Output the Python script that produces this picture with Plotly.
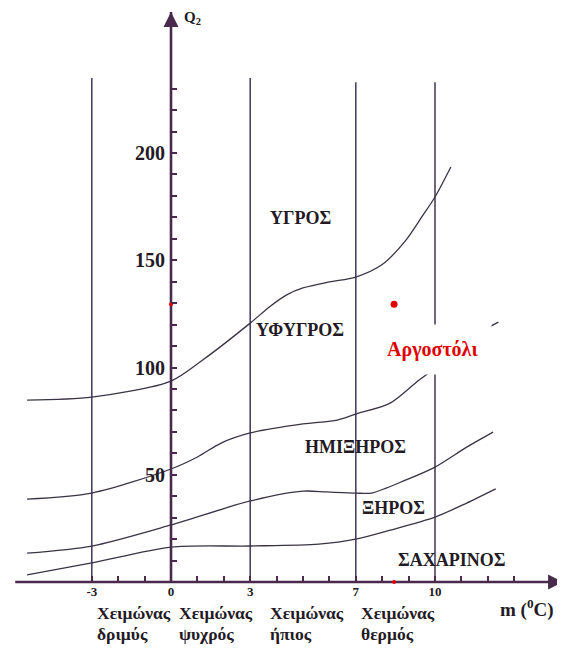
import plotly.graph_objects as go

# ---------------- data ----------------
# winter-type boundaries on the m axis (deg C)
m_bounds = [-3, 0, 3, 7, 10]
m_tick_text = ["-3", "0", "3", "7", "10"]
m_minor = [-2, -1, 1, 2, 4, 5, 6, 8, 9, 11, 12, 13]

# vertical boundary lines (x = 0 is the Q2 axis itself)
vline_m = [-3, 3, 7, 10]
vline_top = [235, 235, 233, 233]

# Q2 axis
q2_ticks = [50, 100, 150, 200]
q2_minor = [10, 20, 30, 40, 60, 70, 80, 90, 110, 120, 130, 140, 160, 170, 180, 190, 210, 220, 230]

# axis extents
m_axis_start = -5.9
m_axis_end = 14.85
q2_axis_end = 265.7

# bioclimatic boundary curves
humid_m = [-5.45, -3, 0, 1.2, 3, 3.75, 4.4, 5.0, 6.0, 7, 8.0, 8.9, 9.5, 10, 10.6]
humid_q = [84.8, 86.2, 93.7, 103.5, 120.7, 128.5, 134.0, 137.1, 139.9, 142.2, 148.0, 159.4, 170.2, 179.5, 193.5]

subhumid_m = [-5.45, -3, 0, 1.0, 1.9, 3, 5.0, 6.3, 7, 8.3, 9.4, 10.7, 12.0, 12.4]
subhumid_q = [38.7, 41.5, 52.7, 58.3, 64.8, 69.5, 73.7, 75.5, 78.3, 83.4, 94.2, 106.0, 118.4, 121.2]

semiarid_m = [-5.45, -3, 0, 3, 5.0, 5.9, 7, 7.6, 8.9, 10, 11.2, 12.2]
semiarid_q = [13.5, 16.8, 26.6, 37.8, 42.4, 42.0, 41.5, 41.5, 47.6, 53.6, 62.9, 69.9]

arid_m = [-5.45, -3, 0, 3, 5.6, 7, 8.3, 10, 11.2, 12.3]
arid_q = [3.3, 8.9, 16.3, 16.8, 17.7, 20.0, 24.2, 30.3, 36.8, 43.4]

# zone names
zone_names = ["ΥΓΡΟΣ", "ΥΦΥΓΡΟΣ", "ΗΜΙΞΗΡΟΣ", "ΞΗΡΟΣ", "ΣΑΧΑΡΙΝΟΣ"]
zone_m = [4.89, 4.89, 6.97, 8.41, 10.64]
zone_q = [169.7, 117.5, 62.9, 34.5, 10.3]

# winter types
winter_word = "Χειμώνας"
winter_types = ["δριμύς", "ψυχρός", "ήπιος", "θερμός"]
winter_m = [-2.88, 0.23, 3.67, 7.12]
winter_q_line1 = -14.2
winter_q_line2 = -24.0

# station
station_name = "Αργοστόλι"
station_m = 8.45
station_q2 = 129.5
station_label_m = 9.92
station_label_q = 108.2

# ---------------- style ----------------
# page body has an 8px margin, ranges chosen so the drawing sits like the original
X_RANGE = [-6.174, 15.227]
Y_RANGE = [-36.8, 267.6]
AXIS_C = "#4a2a4c"
VLINE_C = "#4f4060"
CURVE_C = "#3a3344"
TEXT_C = "#231a25"
RED = "#e00000"
SERIF = "Liberation Serif"

fig = go.Figure()

for v, top in zip(vline_m, vline_top):
    fig.add_trace(go.Scatter(x=[v, v], y=[0, top], mode="lines",
                             line=dict(color=VLINE_C, width=1.6), hoverinfo="skip"))

for xs, ys in [(humid_m, humid_q), (subhumid_m, subhumid_q),
               (semiarid_m, semiarid_q), (arid_m, arid_q)]:
    fig.add_trace(go.Scatter(x=xs, y=ys, mode="lines",
                             line=dict(color=CURVE_C, width=1.3, shape="spline", smoothing=0.8),
                             hoverinfo="skip"))

# axes lines with arrow heads
fig.add_trace(go.Scatter(x=[m_axis_start, m_axis_end], y=[0, 0], mode="lines",
                         line=dict(color=AXIS_C, width=2.6), hoverinfo="skip"))
fig.add_trace(go.Scatter(x=[0, 0], y=[0, q2_axis_end], mode="lines",
                         line=dict(color=AXIS_C, width=2.6), hoverinfo="skip"))
fig.add_trace(go.Scatter(x=[m_axis_end], y=[0], mode="markers",
                         marker=dict(symbol="arrow-right", size=15, color=AXIS_C), hoverinfo="skip"))
fig.add_trace(go.Scatter(x=[0], y=[q2_axis_end], mode="markers",
                         marker=dict(symbol="arrow-up", size=15, color=AXIS_C), hoverinfo="skip"))

# station point and its marks on the axes
fig.add_trace(go.Scatter(x=[station_m], y=[station_q2], mode="markers",
                         marker=dict(color=RED, size=7), hoverinfo="skip"))
fig.add_trace(go.Scatter(x=[station_m, 0], y=[0, station_q2], mode="markers",
                         marker=dict(color=RED, size=4), hoverinfo="skip"))

x_pos = (0 - Y_RANGE[0]) / (Y_RANGE[1] - Y_RANGE[0])
y_pos = (0 - X_RANGE[0]) / (X_RANGE[1] - X_RANGE[0])

annotations = []
# axis titles
annotations.append(dict(x=0.42, y=263, xref="x", yref="y", xanchor="left", yanchor="middle",
                        text="<b>Q<sub>2</sub></b>", showarrow=False,
                        font=dict(family=SERIF, size=15, color=TEXT_C)))
annotations.append(dict(x=12.39, y=-12.1, xref="x", yref="y", xanchor="left", yanchor="middle",
                        text="<b>m (<sup>0</sup>C)</b>", showarrow=False,
                        font=dict(family=SERIF, size=19, color=TEXT_C)))
# zones
for name, xm, yq in zip(zone_names, zone_m, zone_q):
    annotations.append(dict(x=xm, y=yq, xref="x", yref="y", text="<b>" + name + "</b>",
                            showarrow=False, font=dict(family=SERIF, size=18, color=TEXT_C)))
# winters
for name, xm in zip(winter_types, winter_m):
    annotations.append(dict(x=xm, y=winter_q_line1, xref="x", yref="y", xanchor="left",
                            yanchor="middle", text="<b>" + winter_word + "</b>", showarrow=False,
                            font=dict(family=SERIF, size=17.5, color=TEXT_C)))
    annotations.append(dict(x=xm, y=winter_q_line2, xref="x", yref="y", xanchor="left",
                            yanchor="middle", text="<b>" + name + "</b>", showarrow=False,
                            font=dict(family=SERIF, size=17.5, color=TEXT_C)))
# station label
annotations.append(dict(x=station_label_m, y=station_label_q, xref="x", yref="y",
                        text="<b>" + station_name + "</b>", showarrow=False,
                        bgcolor="white", borderpad=13,
                        font=dict(family=SERIF, size=20, color=RED)))

fig.update_layout(
    width=565, height=653,
    margin=dict(l=0, r=0, t=0, b=0),
    paper_bgcolor="white", plot_bgcolor="white",
    showlegend=False,
    annotations=annotations,
    xaxis=dict(range=X_RANGE, domain=[0, 1], anchor="free", position=x_pos,
               showgrid=False, zeroline=False, showline=False,
               tickmode="array", tickvals=m_bounds, ticktext=m_tick_text,
               ticks="inside", ticklen=6, tickwidth=1.5, tickcolor=AXIS_C,
               ticklabelstandoff=0,
               tickfont=dict(family=SERIF, size=13, color=TEXT_C, weight="bold"),
               minor=dict(tickmode="array", tickvals=m_minor, ticks="inside",
                          ticklen=6, tickwidth=1.5, tickcolor=AXIS_C)),
    yaxis=dict(range=Y_RANGE, domain=[0, 1], anchor="free", position=y_pos,
               showgrid=False, zeroline=False, showline=False,
               tickmode="array", tickvals=q2_ticks, ticktext=[str(t) for t in q2_ticks],
               ticks="inside", ticklen=5, tickwidth=1.5, tickcolor=AXIS_C,
               ticklabelstandoff=6,
               tickfont=dict(family=SERIF, size=20, color=TEXT_C, weight="bold"),
               minor=dict(tickmode="array", tickvals=q2_minor, ticks="inside",
                          ticklen=5, tickwidth=1.5, tickcolor=AXIS_C)),
)

fig.write_html("out.html")
